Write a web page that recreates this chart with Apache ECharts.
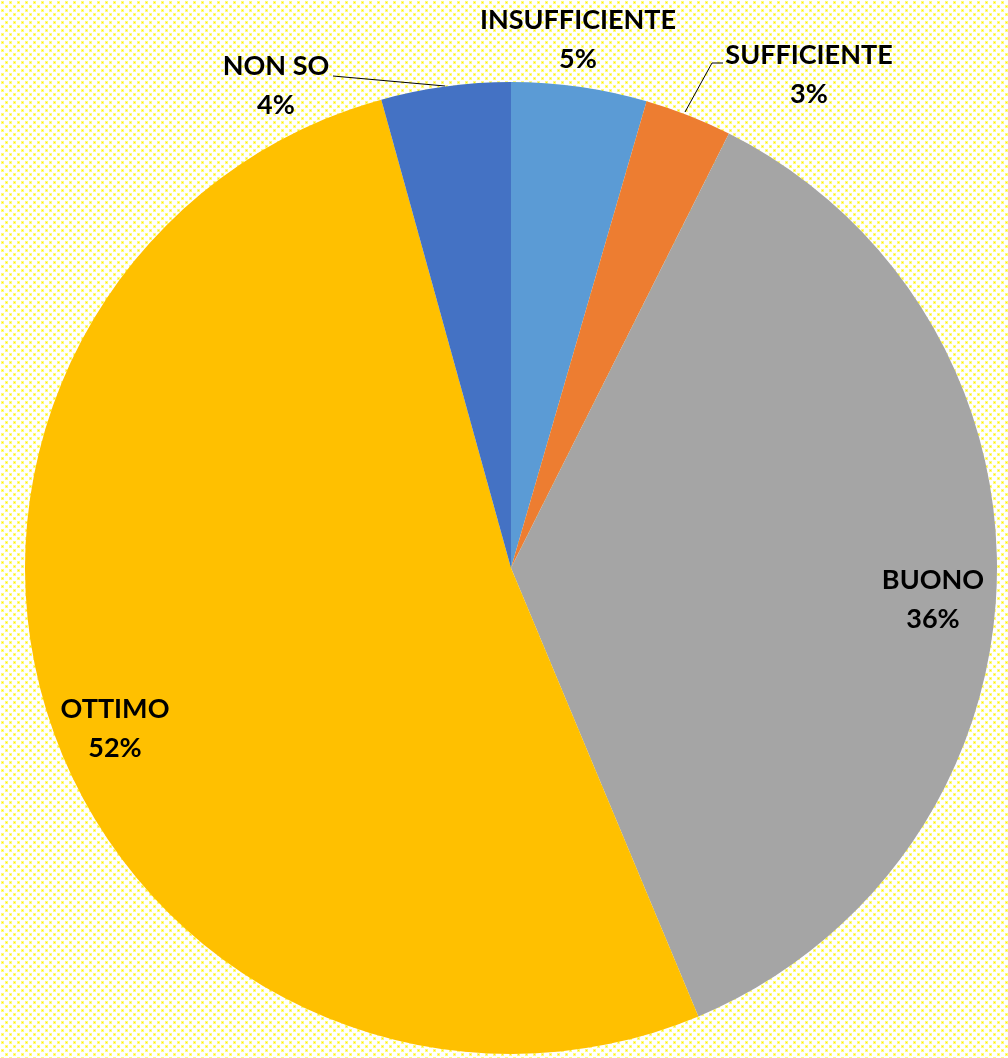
<!DOCTYPE html>
<html>
<head>
<meta charset="utf-8">
<script src="https://cdn.jsdelivr.net/npm/echarts@6/dist/echarts.min.js"></script>
<style>
  html, body { margin: 0; padding: 0; background: #fff; }
  #chart { width: 1008px; height: 1058px; }
</style>
</head>
<body>
<div id="chart"></div>
<script>
// ---- data ----
const categories = ['INSUFFICIENTE', 'SUFFICIENTE', 'BUONO', 'OTTIMO', 'NON SO'];
const values = [4.5, 2.9, 36.3, 52.0, 4.3];
const colors = ['#5B9BD5', '#ED7D31', '#A5A5A5', '#FFC000', '#4472C4'];

// ---- label layout (placement of text boxes, by category index) ----
const labelPlacement = [
  { x: 578, y: 40 },
  { x: 809, y: 75, line: [[685, 112], [712, 63], [723, 63]] },
  { x: 933, y: 600 },
  { x: 115, y: 729 },
  { x: 276, y: 86, line: [[445, 86], [333, 76]] }
];

// dotted yellow background pattern
const pat = document.createElement('canvas');
pat.width = 8; pat.height = 8;
const g = pat.getContext('2d');
g.fillStyle = '#ffffff'; g.fillRect(0, 0, 8, 8);
function dot(x, y) {
  g.fillStyle = '#FFFA80'; g.fillRect(x - 1, y - 1, 3, 3);
  g.fillStyle = '#FFF200'; g.fillRect(x, y, 1, 1);
}
dot(2, 2); dot(6, 6);

const chart = echarts.init(document.getElementById('chart'), null, { renderer: 'canvas' });
chart.setOption({
  backgroundColor: { image: pat, repeat: 'repeat' },
  animation: false,
  series: [{
    type: 'pie',
    center: [511, 568],
    radius: 486,
    startAngle: 90,
    clockwise: true,
    avoidLabelOverlap: false,
    itemStyle: { borderWidth: 0 },
    label: {
      show: true,
      position: 'outside',
      color: '#000',
      fontFamily: 'Lato',
      fontWeight: 'bold',
      fontSize: 27,
      lineHeight: 39,
      align: 'center',
      formatter: p => p.name + '\n' + Math.round(p.percent) + '%'
    },
    labelLine: { show: true, lineStyle: { color: '#000', width: 1 } },
    labelLayout: params => {
      const lp = labelPlacement[params.dataIndex];
      const out = { x: lp.x, y: lp.y, align: 'center', verticalAlign: 'middle' };
      if (lp.line) out.labelLinePoints = lp.line;
      return out;
    },
    data: categories.map((c, i) => ({
      name: c,
      value: values[i],
      itemStyle: { color: colors[i] },
      labelLine: { show: !!labelPlacement[i].line }
    }))
  }]
});
</script>
</body>
</html>
